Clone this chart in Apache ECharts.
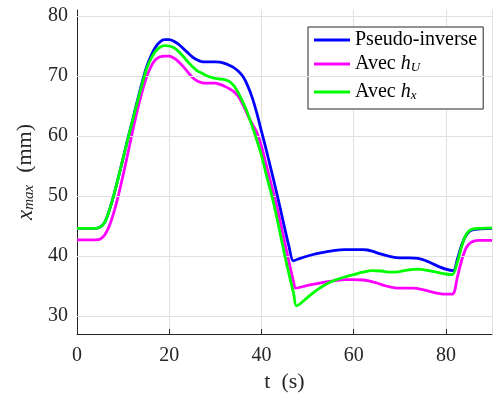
<!DOCTYPE html>
<html>
<head>
<meta charset="utf-8">
<script src="https://cdn.jsdelivr.net/npm/echarts@6/dist/echarts.min.js"></script>
<style>
html,body{margin:0;padding:0;background:#fff;}
#c{width:494px;height:399px;}
</style>
</head>
<body>
<div id="c"></div>
<script>
var seriesNames = ['Pseudo-inverse', 'Avec {i|h}{s|U}', 'Avec {i|h}{s|x}'];
var xTicks = [0, 20, 40, 60, 80];
var yTicks = [30, 40, 50, 60, 70, 80];

var tBlue = [0,4,5,6,7,8,9,10,11,12,13,14,15,16,17,18,19,20,21,22,23,24,25,26,27,28,30,31,32,33,34,35,36,37,38,39,40,41,42,43,44,45,46,46.9,48,50,52,54,56,58,60,62,63,64,66,68,70,72,74,76,78,80,81.6,82.5,83.5,84.5,85.5,87,90];
var vBlue = [44.6,44.6,44.8,45.6,47.6,50.2,53.2,56.3,59.5,62.5,65.6,68.6,71.3,73.3,74.8,75.7,76.05,76.05,75.8,75.3,74.6,73.9,73.2,72.7,72.4,72.35,72.35,72.3,72.1,71.8,71.4,70.8,69.9,68.4,66.4,63.8,60.8,57.8,54.7,51.5,48.2,44.8,41.5,39.2,39.5,40.0,40.4,40.7,40.95,41.05,41.05,41.05,41.0,40.8,40.3,39.9,39.7,39.7,39.6,39.1,38.4,37.8,37.55,39.5,42.0,43.6,44.3,44.5,44.6];

var tMag = [0,4,5,6,7,8,9,10,11,12,13,14,15,16,17,18,19,20,21,22,23,24,25,26,27,28,30,31,32,33,34,35,36,37,38,39,40,41,42,43,44,45,46,47,47.4,50,52,54,56,58,60,62,63,65,67,69,71,73,75,77,79,81.4,82.5,83.5,84.5,85.5,87,90];
var vMag = [42.7,42.7,42.8,43.5,45.0,47.3,50.2,53.5,57.0,60.6,64.0,67.0,69.6,71.5,72.7,73.2,73.3,73.3,73.0,72.4,71.6,70.7,69.8,69.2,68.9,68.8,68.8,68.6,68.3,67.9,67.4,66.6,65.2,63.5,62.0,60.6,58.3,55.3,52.3,49.3,46.0,42.4,38.9,35.6,34.65,35.1,35.4,35.7,35.9,36.05,36.05,36.0,35.9,35.5,35.0,34.7,34.65,34.65,34.4,34.0,33.7,33.65,36.5,39.5,41.5,42.3,42.6,42.6];

var tGreen = [0,4,5,6,7,8,9,10,11,12,13,14,15,16,17,18,19,20,21,22,23,24,25,26,27,28,29,30,31,32,33,34,35,36,37,38,39,40,41,42,43,44,45,46,47,47.6,50,52,54,56,58,60,62,64,66,68,70,72,74,76,78,80,81.4,82.5,83.5,84.5,85.5,87,90];
var vGreen = [44.6,44.6,44.8,45.6,47.6,50.2,53.2,56.3,59.4,62.4,65.4,68.3,71.0,72.8,74.1,74.8,75.05,75.0,74.7,74.1,73.3,72.4,71.6,70.9,70.5,70.1,69.8,69.6,69.5,69.4,69.1,68.4,67.2,65.6,63.8,61.6,59.3,56.8,53.7,50.8,47.6,44.0,40.3,36.9,33.7,31.7,33.1,34.3,35.3,36.0,36.5,36.9,37.3,37.55,37.5,37.3,37.4,37.7,37.8,37.6,37.3,37.0,36.9,39.0,41.8,43.7,44.4,44.6,44.7];

function pairs(t, v) { return t.map(function (x, i) { return [x, v[i]]; }); }

var FONT = 'Liberation Serif';
var AX = '#262626';
var GRID = '#e0e0e0';
var colors = ['#0000ff', '#ff00ff', '#00ff00'];
var names = ['Pseudo-inverse', 'Avec hU', 'Avec hx'];
var legendLabels = {};
legendLabels[names[0]] = seriesNames[0];
legendLabels[names[1]] = seriesNames[1];
legendLabels[names[2]] = seriesNames[2];

var chart = echarts.init(document.getElementById('c'), null, {renderer: 'canvas'});
chart.setOption({
  animation: false,
  backgroundColor: '#ffffff',
  grid: {left: 77, top: 10, width: 415, height: 324, containLabel: false},
  xAxis: {
    type: 'value', min: 0, max: 90, interval: 20,
    name: 't  (s)', nameLocation: 'middle', nameGap: 37, nameMoveOverlap: false,
    nameTextStyle: {fontFamily: FONT, fontSize: 22, color: AX},
    axisLine: {show: true, onZero: false, lineStyle: {color: AX, width: 1}},
    axisTick: {show: true, inside: true, length: 5, lineStyle: {color: AX}},
    axisLabel: {fontFamily: FONT, fontSize: 20, color: AX, margin: 12, showMaxLabel: false},
    splitLine: {show: true, lineStyle: {color: GRID, width: 1}}
  },
  yAxis: {
    type: 'value', min: 27, max: 81,
    name: '{i|x}{s|max}{n|(mm)}', nameLocation: 'middle', nameGap: 40, nameRotate: 90, nameMoveOverlap: false,
    nameTextStyle: {fontFamily: FONT, fontSize: 22, color: AX,
      rich: {
        i: {fontFamily: FONT, fontStyle: 'italic', fontSize: 23, color: AX, verticalAlign: 'top', lineHeight: 23, padding: [0, 0, 6, 0]},
        s: {fontFamily: FONT, fontStyle: 'italic', fontSize: 15, color: AX, verticalAlign: 'bottom', lineHeight: 15},
        n: {fontFamily: FONT, fontSize: 22, color: AX, verticalAlign: 'top', lineHeight: 23, padding: [0, 0, 6, 12]}
      }},
    axisLine: {show: true, onZero: false, lineStyle: {color: AX, width: 1}},
    axisTick: {show: true, inside: true, length: 5, customValues: yTicks, lineStyle: {color: AX}},
    axisLabel: {fontFamily: FONT, fontSize: 20, color: AX, margin: 9, customValues: yTicks},
    splitLine: {show: false}
  },
  legend: {
    orient: 'vertical', left: 308, top: 27,
    padding: [3, 6, 3, 6], itemGap: 4,
    icon: 'rect', itemWidth: 36, itemHeight: 3,
    backgroundColor: '#ffffff', borderColor: AX, borderWidth: 1,
    data: names,
    formatter: function (n) { return legendLabels[n]; },
    textStyle: {fontFamily: FONT, fontSize: 20, color: '#000', lineHeight: 20,
      rich: {
        i: {fontFamily: FONT, fontStyle: 'italic', fontSize: 20, color: '#000', verticalAlign: 'top', lineHeight: 20, padding: [0, 0, 4, 0]},
        s: {fontFamily: FONT, fontStyle: 'italic', fontSize: 13, color: '#000', verticalAlign: 'bottom', lineHeight: 13}
      }}
  },
  series: [
    {name: 'ygrid', type: 'line', data: [], z: 1, silent: true,
      markLine: {silent: true, symbol: ['none', 'none'], label: {show: false},
        lineStyle: {color: GRID, width: 1, type: 'solid'}, animation: false,
        data: yTicks.map(function (v) { return {yAxis: v}; })}},
    {name: names[0], type: 'line', data: pairs(tBlue, vBlue), showSymbol: false, smooth: 0.3, lineStyle: {color: colors[0], width: 2.8}, itemStyle: {color: colors[0]}, z: 5},
    {name: names[1], type: 'line', data: pairs(tMag, vMag), showSymbol: false, smooth: 0.3, lineStyle: {color: colors[1], width: 2.8}, itemStyle: {color: colors[1]}, z: 4},
    {name: names[2], type: 'line', data: pairs(tGreen, vGreen), showSymbol: false, smooth: 0.3, lineStyle: {color: colors[2], width: 2.8}, itemStyle: {color: colors[2]}, z: 6}
  ]
});
</script>
</body>
</html>
